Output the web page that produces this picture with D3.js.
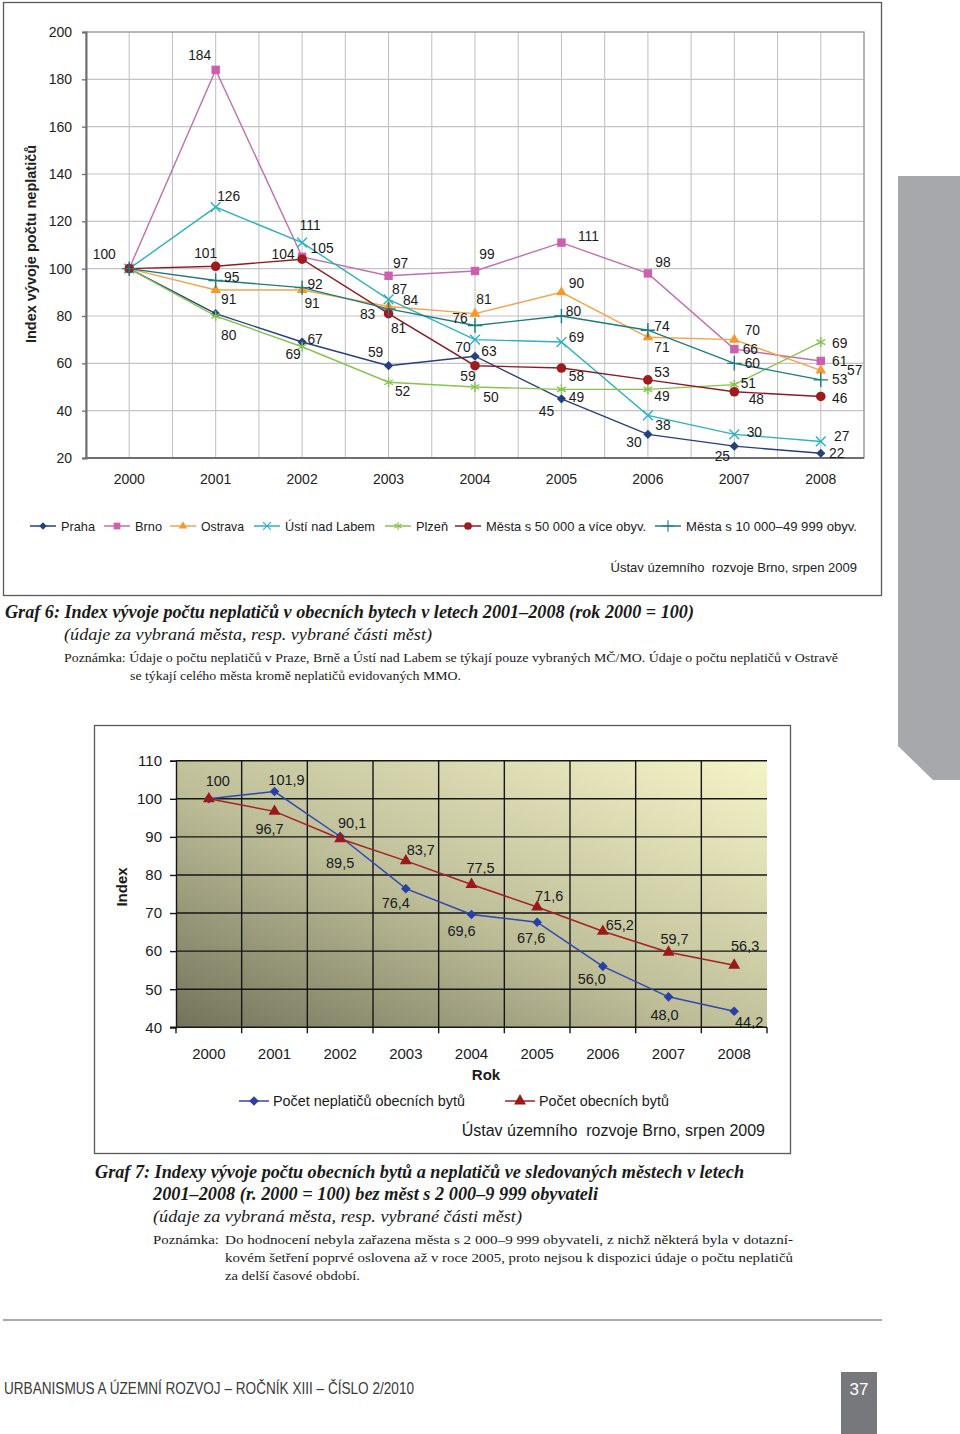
<!DOCTYPE html>
<html><head><meta charset="utf-8">
<script src="https://cdn.jsdelivr.net/npm/d3@7"></script>
<style>body{margin:0;background:#fff}svg{display:block}text{white-space:pre}</style>
</head><body>
<svg id="page" width="960" height="1434"></svg>
<script>
// ---------- DATA: Graf 6 ----------
const years = [2000, 2001, 2002, 2003, 2004, 2005, 2006, 2007, 2008];
const seriesNames6 = ["Praha", "Brno", "Ostrava", "Ústí nad Labem", "Plzeň", "Města s 50 000 a více obyv.", "Města s 10 000–49 999 obyv."];
const praha   = [100, 81, 69, 59, 63, 45, 30, 25, 22];
const brno    = [100, 184, 105, 97, 99, 111, 98, 66, 61];
const ostrava = [100, 91, 91, 84, 81, 90, 71, 70, 57];
const usti    = [100, 126, 111, 87, 70, 69, 38, 30, 27];
const plzen   = [100, 80, 67, 52, 50, 49, 49, 51, 69];
const mesta50 = [100, 101, 104, 81, 59, 58, 53, 48, 46];
const mesta10 = [100, 95, 92, 83, 76, 80, 74, 60, 53];
const yTicks6 = [20, 40, 60, 80, 100, 120, 140, 160, 180, 200];

// ---------- DATA: Graf 7 ----------
const seriesNames7 = ["Počet neplatičů obecních bytů", "Počet obecních bytů"];
const neplatici = [100, 101.9, 90.1, 76.4, 69.6, 67.6, 56.0, 48.0, 44.2];
const byty      = [100, 96.7, 89.5, 83.7, 77.5, 71.6, 65.2, 59.7, 56.3];
const yTicks7 = [40, 50, 60, 70, 80, 90, 100, 110];

// ---------- layout / style config ----------
const style6 = [
  {line:"#24407e", fill:"#24407e", marker:"diamond"},
  {line:"#bf6fb2", fill:"#cc5fae", marker:"square"},
  {line:"#f5a348", fill:"#f7982e", marker:"triangle"},
  {line:"#2cb2c1", fill:"#2cb2c1", marker:"times"},
  {line:"#86c44f", fill:"#86c44f", marker:"asterisk"},
  {line:"#8c1b20", fill:"#9e1b20", marker:"circle"},
  {line:"#1b7b80", fill:"#1b7b80", marker:"plus"}
];
// label centre offsets relative to each point (null = label not shown)
const lab6 = [
  [[-25,-15], null, [-9,12], [-13,-14], [14,-5], [-15,12], [-14,8], [-12,10], [16,0]],
  [null, [-16,-15], [20,-9], [12,-13], [12,-17], [27,-7], [15,-11], [16,0], [19,0]],
  [null, [13,9], [10,13], [22,-7], [9,-15], [15,-9], [14,10], [18,-10], [34,0]],
  [null, [13,-11], [8,-18], [11,-10], [-12,7], [15,-5], [15,10], [20,-2], [21,-5]],
  [null, [13,19], [13,-8], [14,9], [16,10], [15,8], [14,7], [14,-2], [19,1]],
  [null, [-10,-13], [-19,-5], [10,14], [-7,10], [15,8], [14,-8], [22,7], [19,2]],
  [null, [16,-4], [13,-4], [-21,5], [-15,-7], [12,-5], [14,-4], [18,0], [19,-1]]
];
const legend6X = [30, 104, 170, 254, 385, 455, 655];
const legend6W = [34, 27, 43, 90, 32, 160, 171];
const style7 = [
  {line:"#3048ae", fill:"#2a3fa6", marker:"diamond7"},
  {line:"#a32222", fill:"#9a1a1a", marker:"triangle7"}
];
const lab7 = [
  [[9,-18],[12,-12],[12,-14],[-10,14],[-10,16],[-6,16],[-11,12],[-4,18],[15,10]],
  [null,[-5,17],[0,24],[15,-11],[9,-17],[12,-11],[17,-7],[6,-14],[11,-20]]
];

const SANS = "'Liberation Sans', Arial, sans-serif";
const SERIF = "'Liberation Serif', 'Times New Roman', serif";
const svg = d3.select("#page");

function drawMarker(sel, type, st) {
  if (type === "diamond") sel.append("path").attr("d","M0,-4.6L4.6,0L0,4.6L-4.6,0Z").attr("fill",st.fill);
  else if (type === "diamond7") sel.append("path").attr("d","M0,-4.8L4.8,0L0,4.8L-4.8,0Z").attr("fill",st.fill);
  else if (type === "square") sel.append("rect").attr("x",-4.2).attr("y",-4.2).attr("width",8.4).attr("height",8.4).attr("fill",st.fill);
  else if (type === "triangle") sel.append("path").attr("d", d3.symbol(d3.symbolTriangle, 48)()).attr("fill",st.fill);
  else if (type === "triangle7") sel.append("path").attr("d", d3.symbol(d3.symbolTriangle, 62)()).attr("fill",st.fill);
  else if (type === "circle") sel.append("circle").attr("r",4.8).attr("fill",st.fill);
  else if (type === "times") sel.append("path").attr("d", d3.symbol(d3.symbolTimes, 64)()).attr("fill","none").attr("stroke",st.fill).attr("stroke-width",1.4);
  else if (type === "asterisk") sel.append("path").attr("d", d3.symbol(d3.symbolAsterisk, 70)()).attr("fill","none").attr("stroke",st.fill).attr("stroke-width",1.4);
  else if (type === "plus") sel.append("path").attr("d", d3.symbol(d3.symbolPlus, 70)()).attr("fill","none").attr("stroke",st.fill).attr("stroke-width",1.4);
}

// ================= GRAF 6 =================
svg.append("rect").attr("x",3.5).attr("y",2.5).attr("width",878).attr("height",593)
  .attr("fill","#fff").attr("stroke","#5a5a5a").attr("stroke-width",1.3);

const x6 = d3.scaleLinear().domain([1999.5, 2008.5]).range([86, 864]);
const y6 = d3.scaleLinear().domain([20, 200]).range([458, 32]);
const g6 = svg.append("g");

g6.selectAll("line.vg").data(d3.range(2000, 2008.6, 0.5)).join("line")
  .attr("x1", d => x6(d)).attr("x2", d => x6(d)).attr("y1", y6(200)).attr("y2", y6(20))
  .attr("stroke","#c4c4c4").attr("stroke-width",1.1);
g6.selectAll("line.hg").data(yTicks6.slice(1)).join("line")
  .attr("x1", x6(1999.5)).attr("x2", x6(2008.5)).attr("y1", d => y6(d)).attr("y2", d => y6(d))
  .attr("stroke","#c4c4c4").attr("stroke-width",1.1);
g6.append("rect").attr("x",x6(1999.5)).attr("y",y6(200)).attr("width",x6(2008.5)-x6(1999.5)).attr("height",y6(20)-y6(200))
  .attr("fill","none").attr("stroke","#9a9a9a").attr("stroke-width",1.2);

const ax6 = g6.append("g").attr("transform",`translate(${x6(1999.5)},0)`)
  .call(d3.axisLeft(y6).tickValues(yTicks6).tickSize(4).tickPadding(10));
ax6.select(".domain").attr("stroke","#6e6e6e").attr("stroke-width",2);
ax6.selectAll(".tick line").attr("stroke","#6e6e6e").attr("stroke-width",1.3);
ax6.selectAll(".tick text").attr("font-family",SANS).attr("font-size",14).attr("fill","#222");
g6.append("line").attr("x1",x6(1999.5)-1).attr("x2",x6(2008.5)).attr("y1",y6(20)).attr("y2",y6(20))
  .attr("stroke","#6e6e6e").attr("stroke-width",2);

g6.selectAll("text.year").data(years).join("text")
  .attr("x", d => x6(d)).attr("y", 484).attr("text-anchor","middle")
  .attr("font-family",SANS).attr("font-size",14).attr("fill","#222").text(d => d);

g6.append("text").attr("transform","translate(36,244) rotate(-90)").attr("text-anchor","middle")
  .attr("font-family",SANS).attr("font-size",14.5).attr("font-weight","bold").attr("fill","#222")
  .text("Index vývoje počtu neplatičů");

const data6 = [praha, brno, ostrava, usti, plzen, mesta50, mesta10];
const line6 = d3.line().x((d,i) => x6(years[i])).y(d => y6(d));
data6.forEach((vals, si) => {
  const st = style6[si];
  g6.append("path").attr("d", line6(vals)).attr("fill","none").attr("stroke",st.line).attr("stroke-width",1.4);
});
data6.forEach((vals, si) => {
  const st = style6[si];
  vals.forEach((v, i) => {
    const m = g6.append("g").attr("transform",`translate(${x6(years[i])},${y6(v)})`);
    drawMarker(m, st.marker, st);
  });
});
data6.forEach((vals, si) => {
  vals.forEach((v, i) => {
    const o = lab6[si][i];
    if (!o) return;
    g6.append("text").attr("x", x6(years[i]) + o[0]).attr("y", y6(v) + o[1] + 5)
      .attr("text-anchor","middle").attr("font-family",SANS).attr("font-size",13.8).attr("fill","#1a1a1a").text(v);
  });
});

// legend 6
seriesNames6.forEach((name, si) => {
  const st = style6[si];
  const lx = legend6X[si], ly = 526;
  const lg = svg.append("g");
  lg.append("line").attr("x1",lx).attr("x2",lx+26).attr("y1",ly).attr("y2",ly).attr("stroke",st.line).attr("stroke-width",1.5);
  drawMarker(lg.append("g").attr("transform",`translate(${lx+13},${ly}) scale(0.8)`), st.marker, st);
  lg.append("text").attr("x",lx+31).attr("y",ly+4.5).attr("font-family",SANS).attr("font-size",13)
    .attr("textLength",legend6W[si]).attr("lengthAdjust","spacingAndGlyphs")
    .attr("fill","#222").text(name);
});
svg.append("text").attr("x",857).attr("y",572).attr("text-anchor","end").attr("font-family",SANS)
  .attr("font-size",13).attr("fill","#222").text("Ústav územního  rozvoje Brno, srpen 2009");

// captions 6
function cap(x, y, txt, size, opts) {
  const t = svg.append("text").attr("x",x).attr("y",y).attr("font-family",SERIF).attr("font-size",size)
    .attr("fill","#1a1a1a").text(txt);
  if (opts.italic) t.attr("font-style","italic");
  if (opts.bold) t.attr("font-weight","bold");
  if (opts.len) t.attr("textLength",opts.len).attr("lengthAdjust","spacingAndGlyphs");
  return t;
}
cap(5, 618, "Graf 6: Index vývoje počtu neplatičů v obecních bytech v letech 2001–2008 (rok 2000 = 100)", 18, {italic:true,bold:true,len:689});
cap(64, 639.5, "(údaje za vybraná města, resp. vybrané části měst)", 16, {italic:true,len:368});
cap(64, 661.5, "Poznámka: Údaje o počtu neplatičů v Praze, Brně a Ústí nad Labem se týkají pouze vybraných MČ/MO. Údaje o počtu neplatičů v Ostravě", 13.5, {len:774});
cap(130, 679.5, "se týkají celého města kromě neplatičů evidovaných MMO.", 13.5, {len:331});

// side tab
svg.append("path").attr("d","M898,176L960,176L960,780L933,780L898,746Z").attr("fill","#a7a8ac");

// ================= GRAF 7 =================
svg.append("rect").attr("x",94.5).attr("y",725.5).attr("width",696).attr("height",428)
  .attr("fill","#fff").attr("stroke","#5a5a5a").attr("stroke-width",1.3);

const x7 = d3.scaleBand().domain(years).range([176, 767]);
const y7 = d3.scaleLinear().domain([40, 110]).range([1027.3, 760.7]);
const cx7 = d => x7(d) + x7.bandwidth()/2;
const g7 = svg.append("g");

const defs = svg.append("defs");
const grad = defs.append("linearGradient").attr("id","bg7").attr("x1",0).attr("y1",1).attr("x2",1).attr("y2",0);
grad.append("stop").attr("offset","0%").attr("stop-color","#72735a");
grad.append("stop").attr("offset","45%").attr("stop-color","#bdbd98");
grad.append("stop").attr("offset","100%").attr("stop-color","#f5f4c8");
g7.append("rect").attr("x",176).attr("y",y7(110)).attr("width",767-176).attr("height",y7(40)-y7(110)).attr("fill","url(#bg7)");

g7.selectAll("line.hg").data(yTicks7.slice(1)).join("line")
  .attr("x1",176).attr("x2",767).attr("y1",d => y7(d)).attr("y2",d => y7(d))
  .attr("stroke","#161616").attr("stroke-width",1.4);
g7.selectAll("line.vg").data(years.slice(1)).join("line")
  .attr("x1",d => x7(d)).attr("x2",d => x7(d)).attr("y1",y7(110)).attr("y2",y7(40)+6)
  .attr("stroke","#161616").attr("stroke-width",1.4);
g7.append("line").attr("x1",767).attr("x2",767).attr("y1",y7(40)).attr("y2",y7(40)+6).attr("stroke","#161616").attr("stroke-width",1.4);
g7.append("line").attr("x1",176).attr("x2",176).attr("y1",y7(40)).attr("y2",y7(40)+6).attr("stroke","#161616").attr("stroke-width",1.4);

const ax7 = g7.append("g").attr("transform","translate(176,0)")
  .call(d3.axisLeft(y7).tickValues(yTicks7).tickSize(6).tickPadding(8));
ax7.select(".domain").attr("stroke","#161616").attr("stroke-width",1.4);
ax7.selectAll(".tick line").attr("stroke","#161616").attr("stroke-width",1.4);
ax7.selectAll(".tick text").attr("font-family",SANS).attr("font-size",15).attr("fill","#1a1a1a");
g7.append("line").attr("x1",170).attr("x2",767).attr("y1",y7(40)).attr("y2",y7(40)).attr("stroke","#161616").attr("stroke-width",1.4);

g7.selectAll("text.year").data(years).join("text")
  .attr("x",d => cx7(d)).attr("y",1058.5).attr("text-anchor","middle")
  .attr("font-family",SANS).attr("font-size",15).attr("fill","#1a1a1a").text(d => d);
g7.append("text").attr("x",486).attr("y",1079.5).attr("text-anchor","middle").attr("font-family",SANS)
  .attr("font-size",15).attr("font-weight","bold").attr("fill","#1a1a1a").text("Rok");
g7.append("text").attr("transform","translate(127,887) rotate(-90)").attr("text-anchor","middle")
  .attr("font-family",SANS).attr("font-size",15).attr("font-weight","bold").attr("fill","#1a1a1a").text("Index");

const data7 = [neplatici, byty];
const line7 = d3.line().x((d,i) => cx7(years[i])).y(d => y7(d));
data7.forEach((vals, si) => {
  g7.append("path").attr("d", line7(vals)).attr("fill","none").attr("stroke",style7[si].line).attr("stroke-width",1.5);
});
data7.forEach((vals, si) => {
  vals.forEach((v, i) => {
    const m = g7.append("g").attr("transform",`translate(${cx7(years[i])},${y7(v)})`);
    drawMarker(m, style7[si].marker, style7[si]);
  });
});
const fmt7 = v => v === 100 ? "100" : v.toFixed(1).replace(".", ",");
data7.forEach((vals, si) => {
  vals.forEach((v, i) => {
    const o = lab7[si][i];
    if (!o) return;
    g7.append("text").attr("x",cx7(years[i]) + o[0]).attr("y",y7(v) + o[1] + 5.3)
      .attr("text-anchor","middle").attr("font-family",SANS).attr("font-size",14.5).attr("fill","#1a1a1a").text(fmt7(v));
  });
});

// legend 7
const legend7X = [239, 505];
const legend7W = [192, 130];
seriesNames7.forEach((name, si) => {
  const lx = legend7X[si], ly = 1101;
  const lg = svg.append("g");
  lg.append("line").attr("x1",lx).attr("x2",lx+30).attr("y1",ly).attr("y2",ly).attr("stroke",style7[si].line).attr("stroke-width",1.5);
  drawMarker(lg.append("g").attr("transform",`translate(${lx+15},${ly})`), style7[si].marker, style7[si]);
  lg.append("text").attr("x",lx+34).attr("y",ly+5.3).attr("font-family",SANS).attr("font-size",15)
    .attr("textLength",legend7W[si]).attr("lengthAdjust","spacingAndGlyphs")
    .attr("fill","#1a1a1a").text(name);
});
svg.append("text").attr("x",765).attr("y",1135.5).attr("text-anchor","end").attr("font-family",SANS)
  .attr("font-size",16).attr("fill","#1a1a1a").text("Ústav územního  rozvoje Brno, srpen 2009");

// captions 7
cap(95, 1178, "Graf 7: Indexy vývoje počtu obecních bytů a neplatičů ve sledovaných městech v letech", 18, {italic:true,bold:true,len:649});
cap(153, 1199.5, "2001–2008 (r. 2000 = 100) bez měst s 2 000–9 999 obyvateli", 18, {italic:true,bold:true,len:445});
cap(153, 1221.5, "(údaje za vybraná města, resp. vybrané části měst)", 16, {italic:true,len:369});
cap(153, 1243.5, "Poznámka:", 13.5, {len:66});
cap(225, 1243.5, "Do hodnocení nebyla zařazena města s 2 000–9 999 obyvateli, z nichž některá byla v dotazní-", 13.5, {len:568});
cap(225, 1261.5, "kovém šetření poprvé oslovena až v roce 2005, proto nejsou k dispozici údaje o počtu neplatičů", 13.5, {len:568});
cap(225, 1279.5, "za delší časové období.", 13.5, {len:135});

// footer
svg.append("line").attr("x1",3).attr("x2",882).attr("y1",1320).attr("y2",1320).attr("stroke","#555").attr("stroke-width",1.2);
svg.append("text").attr("x",4).attr("y",1394).attr("font-family","'Liberation Sans Narrow', 'Liberation Sans', sans-serif")
  .attr("font-size",17).attr("fill","#3a3a3a").attr("textLength",410).attr("lengthAdjust","spacingAndGlyphs")
  .text("URBANISMUS A ÚZEMNÍ ROZVOJ – ROČNÍK XIII – ČÍSLO 2/2010");
svg.append("rect").attr("x",841).attr("y",1372).attr("width",36).attr("height",62).attr("fill","#77787b");
svg.append("text").attr("x",859).attr("y",1395).attr("text-anchor","middle").attr("font-family","'Liberation Sans Narrow', 'Liberation Sans', sans-serif")
  .attr("font-size",17).attr("fill","#fff").text("37");
</script>
</body></html>
